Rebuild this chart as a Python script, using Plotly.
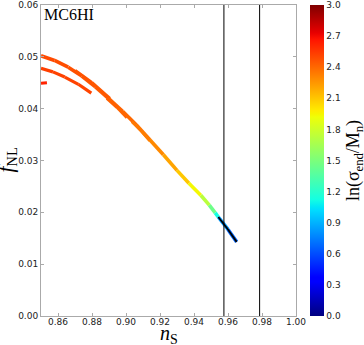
import plotly.graph_objects as go
from plotly.colors import sample_colorscale

# main track (n_s, f_NL, ln(sigma_end/M_n))
main_ns = [0.850, 0.858, 0.866, 0.874, 0.882, 0.890, 0.898, 0.906, 0.914, 0.922,
           0.930, 0.937, 0.944, 0.949, 0.9525, 0.9543, 0.960, 0.9651]
main_fnl = [0.0502, 0.0493, 0.0480, 0.0463, 0.0442, 0.0419, 0.0395, 0.0369, 0.0340, 0.0311,
            0.0281, 0.0256, 0.0233, 0.0214, 0.0199, 0.0191, 0.0167, 0.0143]
main_c = [2.50, 2.49, 2.48, 2.47, 2.45, 2.43, 2.41, 2.38, 2.33, 2.26,
          2.16, 2.03, 1.85, 1.60, 1.30, 0.95, 0.70, 0.65]

second_ns = [0.850, 0.857, 0.864, 0.872, 0.8796]
second_fnl = [0.0478, 0.0471, 0.0461, 0.0447, 0.0430]
second_c = [2.53, 2.53, 2.52, 2.52, 2.51]

red_ns = [0.850, 0.8535]
red_fnl = [0.0449, 0.0450]
red_c = [2.62, 2.62]

# short offset pieces along the main track
seg1_ns = [0.8702, 0.880, 0.8906]
seg1_fnl = [0.0474, 0.0451, 0.0420]
seg1_c = [2.47, 2.46, 2.44]
seg2_ns = [0.8888, 0.895, 0.9006]
seg2_fnl = [0.0420, 0.0402, 0.0383]
seg2_c = [2.43, 2.42, 2.40]
seg3_ns = [0.9035, 0.909, 0.914]
seg3_fnl = [0.0375, 0.0357, 0.0338]
seg3_c = [2.36, 2.34, 2.32]

# observed n_s bounds
ns_lines = [0.9576, 0.9786]

x_ticks = [0.86, 0.88, 0.90, 0.92, 0.94, 0.96, 0.98, 1.00]
y_ticks = [0.00, 0.01, 0.02, 0.03, 0.04, 0.05, 0.06]
cb_ticks = [0.0, 0.3, 0.6, 0.9, 1.2, 1.5, 1.8, 2.1, 2.4, 2.7, 3.0]

jet = [
    [0.0, "rgb(0,0,128)"], [0.11, "rgb(0,0,255)"], [0.125, "rgb(0,0,255)"],
    [0.34, "rgb(0,219,255)"], [0.35, "rgb(0,230,247)"], [0.375, "rgb(20,255,226)"],
    [0.64, "rgb(239,255,8)"], [0.65, "rgb(247,245,0)"], [0.66, "rgb(255,236,0)"],
    [0.89, "rgb(255,19,0)"], [0.91, "rgb(232,0,0)"], [1.0, "rgb(128,0,0)"],
]
cmin, cmax = 0.0, 3.0

fig = go.Figure()


def add_track(xs, ys, cs, width=3.2):
    for i in range(len(xs) - 1):
        v = ((cs[i] + cs[i + 1]) / 2 - cmin) / (cmax - cmin)
        col = sample_colorscale(jet, [v])[0]
        fig.add_trace(go.Scatter(x=[xs[i], xs[i + 1]], y=[ys[i], ys[i + 1]], mode="lines",
                                 line=dict(color=col, width=width), showlegend=False,
                                 hoverinfo="skip"))


add_track(second_ns, second_fnl, second_c)
add_track(red_ns, red_fnl, red_c)
add_track(main_ns, main_fnl, main_c, 3.6)
add_track(seg1_ns, seg1_fnl, seg1_c, 2.6)
add_track(seg2_ns, seg2_fnl, seg2_c, 3.4)
add_track(seg3_ns, seg3_fnl, seg3_c, 3.0)

# black overlay on the last part of the track
k = 15
fig.add_trace(go.Scatter(x=main_ns[k:], y=main_fnl[k:], mode="lines",
                         line=dict(color="black", width=1.8), showlegend=False,
                         hoverinfo="skip"))

for xv in ns_lines:
    fig.add_trace(go.Scatter(x=[xv, xv], y=[0, 0.06], mode="lines",
                             line=dict(color="black", width=1), showlegend=False,
                             hoverinfo="skip"))

# colour bar
fig.add_trace(go.Scatter(
    x=[None], y=[None], mode="markers", showlegend=False,
    marker=dict(color=[0], cmin=cmin, cmax=cmax, colorscale=jet, showscale=True,
                colorbar=dict(
                    x=1.055, xanchor="left", y=0.5, yanchor="middle", len=1.0, lenmode="fraction",
                    xpad=0, ypad=0,
                    thickness=14, outlinewidth=0, ticks="", tickvals=cb_ticks,
                    ticktext=[f"{t:.1f}" for t in cb_ticks],
                    tickfont=dict(family="DejaVu Sans", size=9, color="#222"),
                    title=dict(text="ln(σ<sub>end</sub>/M<sub>n</sub>)", side="right",
                               font=dict(family="Liberation Serif", size=18, color="black")),
                )),
))

axis_common = dict(showline=True, linecolor="#aaaaaa", linewidth=1, mirror="ticks",
                   ticks="inside", ticklen=3, tickcolor="#aaaaaa", showgrid=False,
                   zeroline=False, automargin=False,
                   tickfont=dict(family="DejaVu Sans", size=9, color="#222"))

fig.update_xaxes(range=[0.85, 1.0], tickvals=x_ticks, ticklabelstandoff=-3,
                 ticktext=[f"{t:.2f}" for t in x_ticks], **axis_common)
fig.update_yaxes(range=[0.0, 0.06], tickvals=y_ticks,
                 ticktext=[f"{t:.2f}" for t in y_ticks], **axis_common)

fig.add_annotation(x=0.0, y=1.0, xref="paper", yref="paper", xanchor="left", yanchor="top",
                   text="MC6HI", showarrow=False, xshift=1, yshift=1,
                   font=dict(family="Liberation Serif", size=16, color="black"))
fig.add_annotation(x=0.5, y=0.0, xref="paper", yref="paper", xanchor="center", yanchor="top",
                   text="<i>n</i><sub>S</sub>", showarrow=False, yshift=-4,
                   font=dict(family="Liberation Serif", size=20, color="black"))
fig.add_annotation(x=0.0, y=0.5, xref="paper", yref="paper", xanchor="right", yanchor="middle",
                   text="<i>f</i><sub>NL</sub>", showarrow=False, xshift=-20, textangle=-90,
                   font=dict(family="Liberation Serif", size=21, color="black"))

fig.update_layout(width=364, height=345, hovermode=False,
                  margin=dict(l=41, r=68, t=5, b=29, autoexpand=False),
                  plot_bgcolor="white", paper_bgcolor="white")

fig.write_html("out.html", config={"displayModeBar": False},
               post_script="document.body.style.margin='0';document.body.style.overflow='hidden';")
